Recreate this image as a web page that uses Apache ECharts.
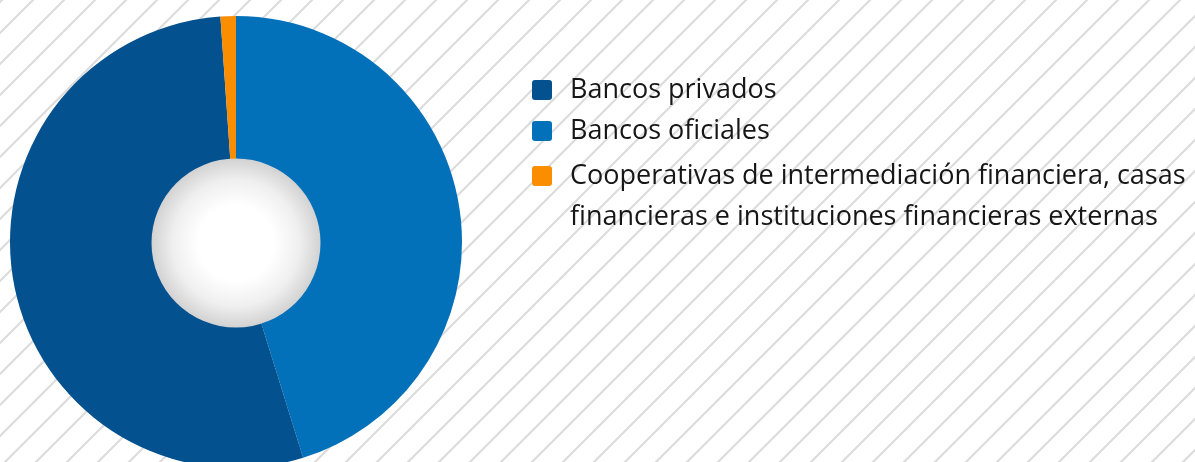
<!DOCTYPE html>
<html lang="es">
<head>
    <meta charset="UTF-8">
    <title>Sistema financiero</title>
    <script src="https://cdn.jsdelivr.net/npm/echarts@6/dist/echarts.min.js"></script>
    <style>
        html, body { margin: 0; padding: 0; background: #fff; }
        #main { width: 1195px; height: 462px; }
    </style>
</head>
<body>
    <div id="main"></div>
<script type="text/javascript">
    // datos (porcentajes, en orden horario desde arriba)
    var categories = ['Bancos oficiales', 'Bancos privados',
        'Cooperativas de intermediación financiera, casas\nfinancieras e instituciones financieras externas'];
    var shares = [45.2, 53.7, 1.1];
    var colors = ['#0370BA', '#03518F', '#FB8D00'];
    // orden de la leyenda
    var legendOrder = [1, 0, 2];

    // fondo rayado
    function stripes() {
        var p = 31;
        var c = document.createElement('canvas');
        c.width = p; c.height = p;
        var ctx = c.getContext('2d');
        ctx.fillStyle = '#ffffff';
        ctx.fillRect(0, 0, p, p);
        ctx.strokeStyle = '#dcdcdc';
        ctx.lineWidth = 2.2;
        [2, 2 + p, 2 - p, 2 + 2 * p].forEach(function (k) {
            ctx.beginPath();
            ctx.moveTo(k + 2, -2);
            ctx.lineTo(k - p - 2, p + 2);
            ctx.stroke();
        });
        return c;
    }

    var myChart = echarts.init(document.getElementById('main'));

    var iconPath = 'path://M3,0H17A3,3,0,0,1,20,3V17A3,3,0,0,1,17,20H3A3,3,0,0,1,0,17V3A3,3,0,0,1,3,0Z';
    var font = {
        fontFamily: 'Open Sans',
        fontSize: 27,
        color: '#161616',
        lineHeight: 41,
        padding: [0, 0, 0, 13]
    };

    var option = {
        backgroundColor: { image: stripes(), repeat: 'repeat' },
        animation: false,
        legend: [{
            orient: 'vertical',
            left: 532,
            top: 69.5,
            padding: 0,
            itemGap: 0,
            itemWidth: 20,
            itemHeight: 20,
            icon: iconPath,
            selectedMode: false,
            textStyle: font,
            data: [categories[legendOrder[0]], categories[legendOrder[1]]]
        }, {
            // elemento de dos lineas: la primera linea queda alineada con el icono
            orient: 'vertical',
            left: 532,
            top: 114.5,
            padding: 0,
            itemWidth: 20,
            itemHeight: 20,
            icon: iconPath,
            selectedMode: false,
            textStyle: font,
            formatter: function (name) { return ' \n' + name; },
            data: [categories[legendOrder[2]]]
        }],
        series: [{
            type: 'pie',
            center: [236, 242],
            radius: [0, 226],
            startAngle: 90,
            clockwise: true,
            silent: true,
            label: { show: false },
            labelLine: { show: false },
            itemStyle: { borderWidth: 0 },
            data: categories.map(function (n, i) {
                return { name: n, value: shares[i], itemStyle: { color: colors[i] } };
            })
        }, {
            // disco central
            type: 'pie',
            center: [236, 243],
            radius: [0, 84.5],
            silent: true,
            z: 3,
            label: { show: false },
            labelLine: { show: false },
            itemStyle: {
                color: {
                    type: 'radial', x: 0.5, y: 0.5, r: 0.5,
                    colorStops: [
                        { offset: 0, color: '#ffffff' },
                        { offset: 0.45, color: '#ffffff' },
                        { offset: 0.75, color: '#efefef' },
                        { offset: 1, color: '#d3d2d2' }
                    ]
                }
            },
            data: [{ name: '', value: 1 }]
        }]
    };

    myChart.setOption(option);
</script>
</body>
</html>
